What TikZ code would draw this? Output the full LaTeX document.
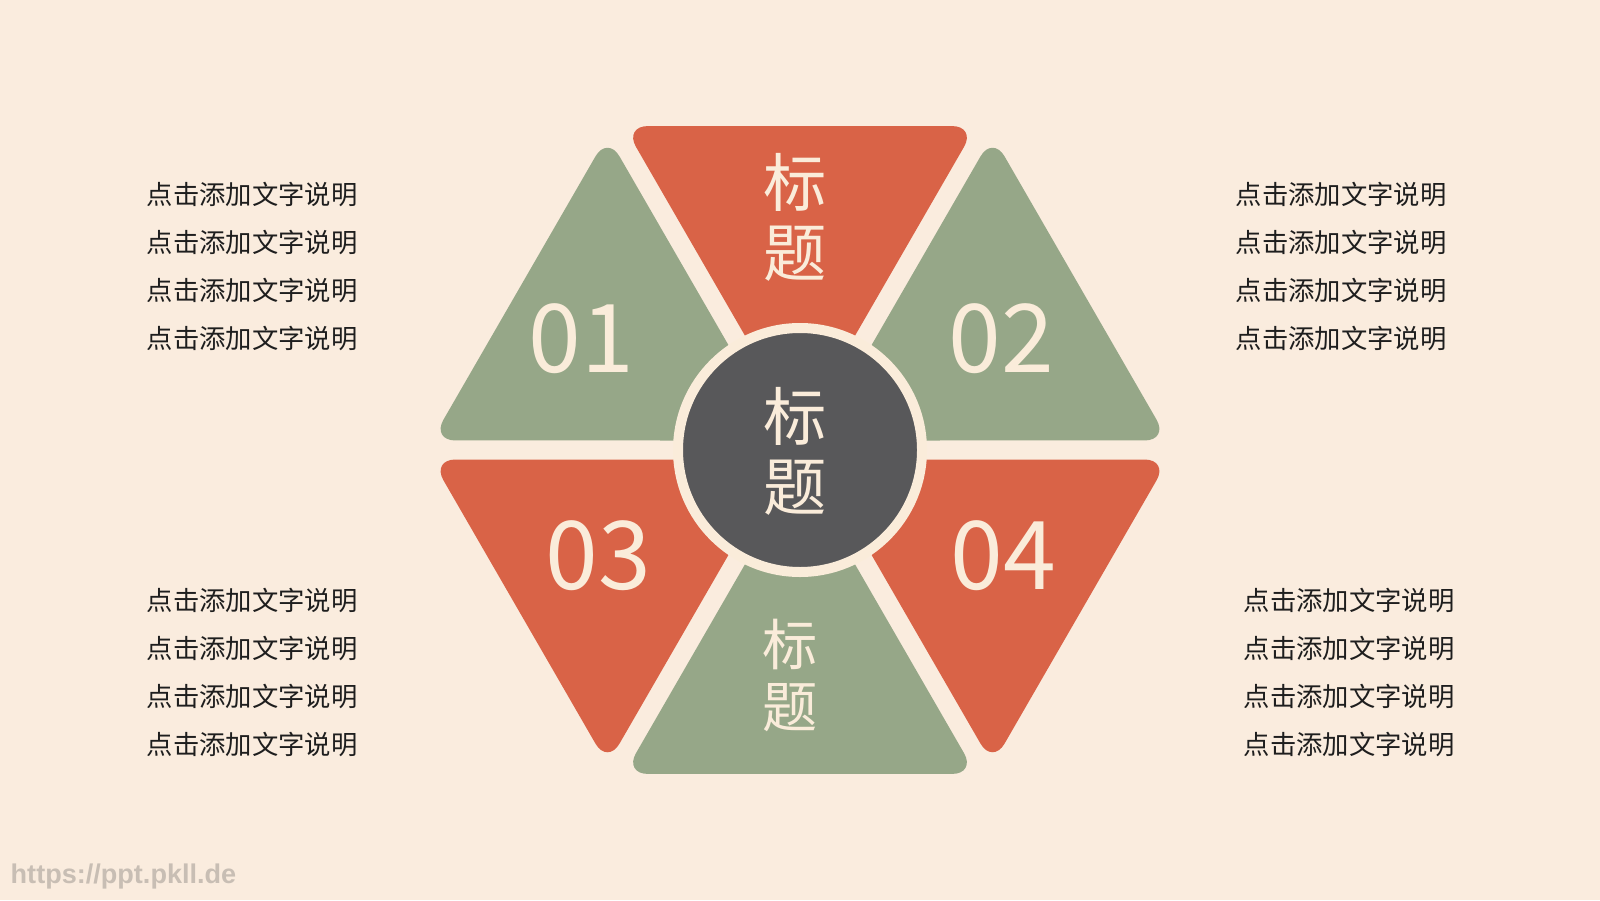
\documentclass[tikz,border=0pt]{standalone}
\usepackage{fontspec}
\newfontfamily\cjk{Noto Sans CJK SC}
\newfontfamily\wmfont{Liberation Sans}
\usetikzlibrary{calc,positioning}
\definecolor{bgc}{RGB}{250,236,222}
\definecolor{grn}{RGB}{150,167,136}
\definecolor{rd}{RGB}{217,99,71}
\definecolor{drk}{RGB}{88,88,90}
\definecolor{crm}{RGB}{250,236,218}
\definecolor{wm}{RGB}{200,190,180}
\definecolor{txt}{RGB}{30,30,30}

\begin{document}
\begin{tikzpicture}[
   tri/.style={rounded corners=0.24cm},
   num/.style={text=crm,font=\cjk\fontsize{27pt}{30pt}\selectfont,inner sep=0pt},
   ttl/.style={text=crm,align=center,inner sep=0pt},
   desc/.style={text=txt,font=\cjk\fontsize{7.5pt}{13.66pt}\selectfont,align=left,anchor=west,inner sep=0pt}]
   \useasboundingbox (0,0) rectangle (16,9);
   \fill[bgc] (0,0) rectangle (16,9);
   \coordinate (o) at (8,4.5);
   \foreach \a/\c in {90/rd,150/grn,30/grn,210/rd,330/rd,270/grn}
     \fill[\c,tri] ($(o)+(\a:0.19)$) -- ($(o)+(\a-28.52:3.687)$) -- ($(o)+(\a+28.52:3.687)$) -- cycle;
   \node[circle,fill=drk,draw=crm,line width=0.1cm,minimum size=2.44cm,inner sep=0pt] (c) at (o) {};
   \node[ttl,font=\cjk\fontsize{18pt}{19.9pt}\selectfont] (h0) at (7.95,4.49) {标\\题};
   \node[ttl,font=\cjk\fontsize{18pt}{19.9pt}\selectfont] (h1) at (7.95,6.83) {标\\题};
   \node[ttl,font=\cjk\fontsize{15.7pt}{17.4pt}\selectfont] (h2) at (7.90,2.245) {标\\题};
   \node[num] (n1) at (5.81,5.61) {01};
   \node[num] (n2) at (10.01,5.61) {02};
   \node[num] (n3) at (5.98,3.44) {03};
   \node[num] (n4) at (10.03,3.44) {04};
   \node[desc] (d1) at (1.46,6.34) {点击添加文字说明\\点击添加文字说明\\点击添加文字说明\\点击添加文字说明};
   \node[desc] (d2) at (12.35,6.34) {点击添加文字说明\\点击添加文字说明\\点击添加文字说明\\点击添加文字说明};
   \node[desc] (d3) at (1.46,2.28) {点击添加文字说明\\点击添加文字说明\\点击添加文字说明\\点击添加文字说明};
   \node[desc] (d4) at (12.43,2.28) {点击添加文字说明\\点击添加文字说明\\点击添加文字说明\\点击添加文字说明};
   \node[anchor=west,text=wm,font=\wmfont\bfseries\fontsize{7.7pt}{9pt}\selectfont,inner sep=0pt] (w) at (0.10,0.24) {https://ppt.pkll.de};
\end{tikzpicture}
\end{document}
